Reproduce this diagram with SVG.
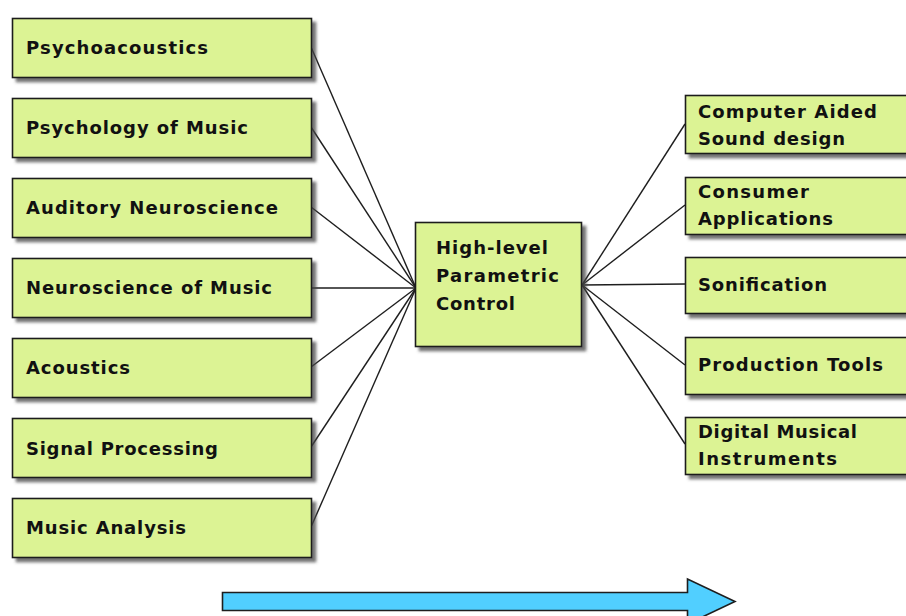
<svg xmlns="http://www.w3.org/2000/svg" width="906" height="616" viewBox="0 0 906 616">
  <defs>
    <filter id="sh" x="-10%" y="-10%" width="130%" height="140%">
      <feDropShadow dx="4" dy="4" stdDeviation="1.6" flood-color="#444" flood-opacity="0.75"/>
    </filter>
    <style>
      .box { fill: #dcf394; stroke: #1e1e1e; stroke-width: 1.6; filter: url(#sh); }
      .lbl { font-family: "DejaVu Sans", Verdana, sans-serif; font-weight: bold; font-size: 18px; fill: #111; }
      .conn line { stroke: #1e1e1e; stroke-width: 1.4; }
      .big { fill: #51cfff; stroke: #1e1e1e; stroke-width: 1.6; stroke-linejoin: miter; }
    </style>
  </defs>
  <rect width="906" height="616" fill="#ffffff"/>

  <g id="connectors" class="conn">
    <line x1="311" y1="47" x2="416" y2="288"/>
    <line x1="311" y1="127" x2="416" y2="288"/>
    <line x1="311" y1="207" x2="416" y2="288"/>
    <line x1="311" y1="288" x2="416" y2="288"/>
    <line x1="311" y1="367" x2="416" y2="288"/>
    <line x1="311" y1="447" x2="416" y2="288"/>
    <line x1="311" y1="527" x2="416" y2="288"/>
    <line x1="582" y1="285" x2="685" y2="124"/>
    <line x1="582" y1="285" x2="685" y2="205"/>
    <line x1="582" y1="285" x2="685" y2="284"/>
    <line x1="582" y1="285" x2="685" y2="365"/>
    <line x1="582" y1="285" x2="685" y2="444"/>
  </g>

  <g id="psychoacoustics">
    <rect class="box" x="12.5" y="18.5" width="299" height="59"/>
    <text class="lbl" x="26" y="54" textLength="182" lengthAdjust="spacing">Psychoacoustics</text>
  </g>
  <g id="psychology-of-music">
    <rect class="box" x="12.5" y="98.5" width="299" height="59"/>
    <text class="lbl" x="26" y="134" textLength="222" lengthAdjust="spacing">Psychology of Music</text>
  </g>
  <g id="auditory-neuroscience">
    <rect class="box" x="12.5" y="178.5" width="299" height="59"/>
    <text class="lbl" x="26" y="214" textLength="252" lengthAdjust="spacing">Auditory Neuroscience</text>
  </g>
  <g id="neuroscience-of-music">
    <rect class="box" x="12.5" y="258.5" width="299" height="59"/>
    <text class="lbl" x="26" y="294" textLength="246" lengthAdjust="spacing">Neuroscience of Music</text>
  </g>
  <g id="acoustics">
    <rect class="box" x="12.5" y="338.5" width="299" height="59"/>
    <text class="lbl" x="26" y="374" textLength="104" lengthAdjust="spacing">Acoustics</text>
  </g>
  <g id="signal-processing">
    <rect class="box" x="12.5" y="418.5" width="299" height="59"/>
    <text class="lbl" x="26" y="455" textLength="192" lengthAdjust="spacing">Signal Processing</text>
  </g>
  <g id="music-analysis">
    <rect class="box" x="12.5" y="498.5" width="299" height="59"/>
    <text class="lbl" x="26" y="534" textLength="160" lengthAdjust="spacing">Music Analysis</text>
  </g>

  <g id="high-level-parametric-control">
    <rect class="box" x="415.5" y="222.5" width="166" height="124"/>
    <text class="lbl" x="436" y="254" textLength="112" lengthAdjust="spacing">High-level</text>
    <text class="lbl" x="436" y="282" textLength="123" lengthAdjust="spacing">Parametric</text>
    <text class="lbl" x="436" y="310" textLength="79" lengthAdjust="spacing">Control</text>
  </g>

  <g id="computer-aided-sound-design">
    <rect class="box" x="685.5" y="95.5" width="240" height="58"/>
    <text class="lbl" x="698" y="118" textLength="179" lengthAdjust="spacing">Computer Aided</text>
    <text class="lbl" x="698" y="145" textLength="147" lengthAdjust="spacing">Sound design</text>
  </g>
  <g id="consumer-applications">
    <rect class="box" x="685.5" y="177.5" width="240" height="57"/>
    <text class="lbl" x="698" y="198" textLength="111" lengthAdjust="spacing">Consumer</text>
    <text class="lbl" x="698" y="225" textLength="135" lengthAdjust="spacing">Applications</text>
  </g>
  <g id="sonification">
    <rect class="box" x="685.5" y="257.5" width="240" height="56"/>
    <text class="lbl" x="698" y="291" textLength="129" lengthAdjust="spacing">Sonification</text>
  </g>
  <g id="production-tools">
    <rect class="box" x="685.5" y="337.5" width="240" height="57"/>
    <text class="lbl" x="698" y="371" textLength="185" lengthAdjust="spacing">Production Tools</text>
  </g>
  <g id="digital-musical-instruments">
    <rect class="box" x="685.5" y="417.5" width="240" height="57"/>
    <text class="lbl" x="698" y="438" textLength="159" lengthAdjust="spacing">Digital Musical</text>
    <text class="lbl" x="698" y="465" textLength="139" lengthAdjust="spacing">Instruments</text>
  </g>

  <g id="flow-arrow">
    <polygon class="big" points="222.5,592.5 687.5,592.5 687.5,579 735,601.5 687.5,624 687.5,610.5 222.5,610.5"/>
  </g>
</svg>
